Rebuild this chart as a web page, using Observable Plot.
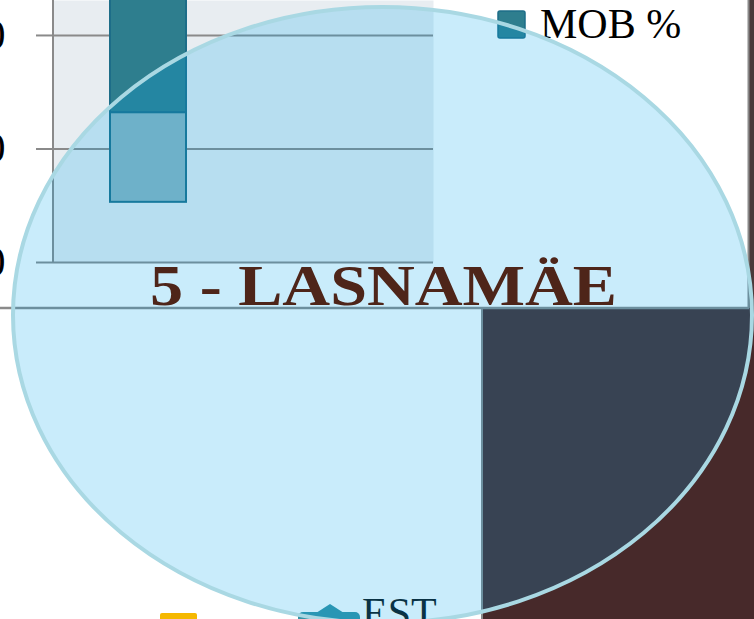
<!DOCTYPE html>
<html><head><meta charset="utf-8">
<script src="https://cdn.jsdelivr.net/npm/d3@7"></script>
<script src="https://cdn.jsdelivr.net/npm/@observablehq/plot@0.6"></script>
<style>html,body{margin:0;padding:0;background:#fff;overflow:hidden}svg{display:block}</style>
</head><body><div id="chart"></div>
<script>
// ---- data ----
const districts = ["5 - LASNAMÄE", "·"];
const series = ["EST", "MOB %"];
const seriesFrom = [5.3, 13.2];
const seriesTo = [13.2, 30];
const seriesColors = ["#8cb4c0", "#2e7e8e"];
const yTicks = [0, 10, 20];
const yDomain = [0, 23.08];
const title = "5 - LASNAMÄE";
const legendLabels = ["MOB %", "EST"];

const bars = series.map((s, i) => ({district: districts[0], series: s, y1: seriesFrom[i], y2: seriesTo[i]}));

const W = 754, H = 619;
const chart = Plot.plot({
  width: W, height: H,
  marginLeft: 53, marginRight: 321, marginTop: 0, marginBottom: 357,
  style: {background: "transparent", fontFamily: "'Liberation Serif', serif", color: "#000"},
  x: {domain: districts, paddingInner: 0.6, paddingOuter: 0.3, axis: null},
  y: {domain: yDomain, axis: null},
  color: {domain: series, range: seriesColors},
  marks: [
    Plot.frame({fill: "#e8edf1", stroke: "none"}),
    Plot.gridY(yTicks, {stroke: "#8a8a8a", strokeOpacity: 1, strokeWidth: 2}),
    Plot.axisY(yTicks, {tickSize: 17, tickPadding: 31, fontSize: 42, stroke: "#8a8a8a", strokeWidth: 2, strokeOpacity: 1, label: null, fontFamily: "'Liberation Serif', serif"}),
    Plot.barY(bars, {x: "district", y1: "y1", y2: "y2", fill: "series", stroke: "#1d6d88", strokeWidth: 2})
  ]
});
document.getElementById("chart").appendChild(chart);

const svg = d3.select(chart);
const xs = chart.scale("x"), ys = chart.scale("y");
const left = xs.range[0];
const y0 = ys.apply(yDomain[0]);

// background layers (beneath the plot)
const under = svg.insert("g", ":first-child");
under.append("rect").attr("x", 0).attr("y", 0).attr("width", W).attr("height", H).attr("fill", "#fff");
under.append("rect").attr("x", 749).attr("y", 0).attr("width", 5).attr("height", H).attr("fill", "#4a3a3b");
under.append("rect").attr("x", 482).attr("y", 308).attr("width", W - 482).attr("height", H - 308).attr("fill", "#47292a");

// overlay layers
const over = svg.append("g").attr("text-anchor", "start");
over.append("line").attr("x1", left).attr("x2", left).attr("y1", 0).attr("y2", y0).attr("stroke", "#8a8a8a").attr("stroke-width", 2);
over.append("line").attr("x1", 0).attr("x2", 749).attr("y1", 308).attr("y2", 308).attr("stroke", "#8a8a8a").attr("stroke-width", 2.5);
over.append("line").attr("x1", 748.5).attr("x2", 748.5).attr("y1", 0).attr("y2", 308).attr("stroke", "#8a8a8a").attr("stroke-width", 2);
over.append("line").attr("x1", 482).attr("x2", 482).attr("y1", 308).attr("y2", H).attr("stroke", "#8a8a8a").attr("stroke-width", 2);

// legend (under the ellipse)
over.append("rect").attr("x", 498).attr("y", 11).attr("width", 27).attr("height", 27).attr("rx", 2)
  .attr("fill", seriesColors[1]).attr("stroke", "#1d6d88").attr("stroke-width", 1.5);
over.append("text").attr("x", 540).attr("y", 38).attr("text-anchor", "start")
  .attr("font-family", "'Liberation Serif', serif").attr("font-size", 42).attr("fill", "#000").text(legendLabels[0]);
over.append("rect").attr("x", 160).attr("y", 613).attr("width", 37).attr("height", 20).attr("rx", 2).attr("fill", "#f5b800");
over.append("rect").attr("x", 298).attr("y", 612).attr("width", 62).attr("height", 14).attr("rx", 5).attr("fill", "#3593a6");
over.append("path").attr("d", "M316,613 L330,604 L344,613 Z").attr("fill", "#3593a6");
over.append("text").attr("x", 362).attr("y", 627).attr("text-anchor", "start")
  .attr("font-family", "'Liberation Serif', serif").attr("font-size", 42).attr("fill", "#0d1418").text(legendLabels[1]);

// ellipse
over.append("ellipse").attr("cx", 382.5).attr("cy", 315).attr("rx", 369.5).attr("ry", 308)
  .attr("fill", "rgb(0,165,236)").attr("fill-opacity", 0.212)
  .attr("stroke", "#a9d8e3").attr("stroke-width", 4);

// title
over.append("text").attr("x", 383.5).attr("y", 305).attr("text-anchor", "middle")
  .attr("font-family", "'Liberation Serif', serif").attr("font-weight", "bold").attr("font-size", 58)
  .attr("textLength", 467).attr("lengthAdjust", "spacingAndGlyphs")
  .attr("fill", "#4e2519").text(title);
</script>
</body></html>
